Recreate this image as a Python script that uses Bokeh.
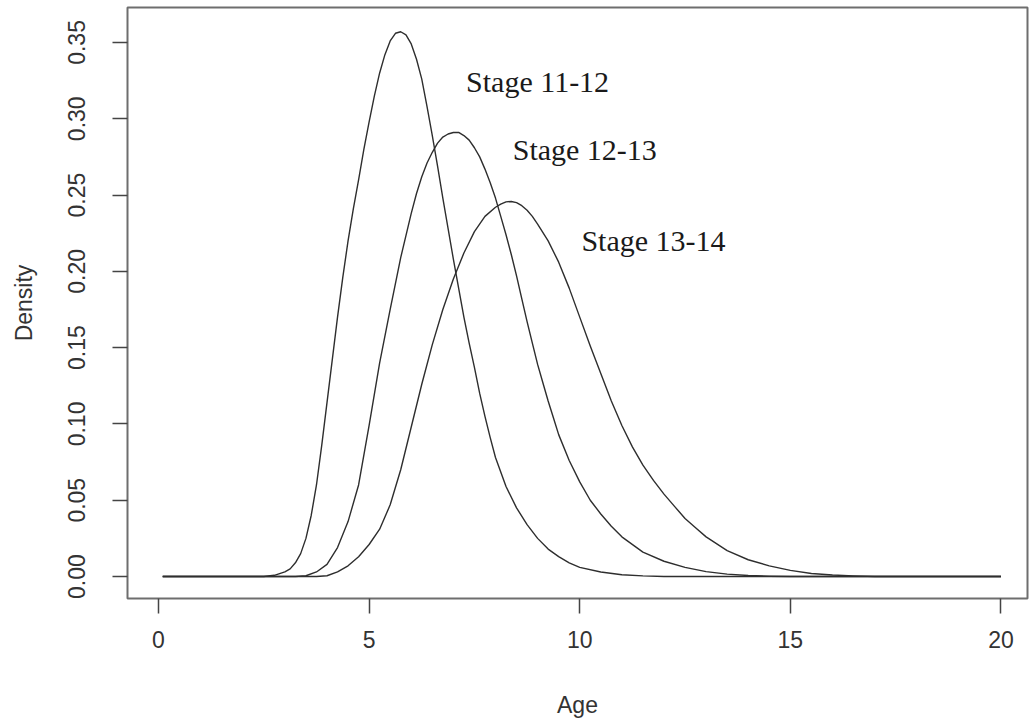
from bokeh.plotting import figure
from bokeh.models import Range1d, FixedTicker, ColumnDataSource
from bokeh.core.properties import value
from bokeh.embed import file_html
from bokeh.resources import INLINE

# ---- data ----
x_s1 = [0.1, 2.5, 2.75, 3.0, 3.125, 3.25, 3.375, 3.5, 3.625, 3.75, 3.875, 4.0, 4.125, 4.25, 4.375,
        4.5, 4.625, 4.75, 4.875, 5.0, 5.125, 5.25, 5.375, 5.5, 5.625, 5.75, 5.875, 6.0, 6.125,
        6.25, 6.375, 6.5, 6.625, 6.75, 6.875, 7.0, 7.125, 7.25, 7.375, 7.5, 7.625, 7.75, 7.875,
        8.0, 8.25, 8.5, 8.75, 9.0, 9.25, 9.5, 9.75, 10.0, 10.5, 11.0, 11.5, 12.0, 20.0]
y_s1 = [0.0, 0.0, 0.0008, 0.003, 0.005, 0.009, 0.015, 0.025, 0.04, 0.06, 0.086, 0.114, 0.142, 0.17, 0.196,
        0.22, 0.241, 0.26, 0.28, 0.298, 0.315, 0.33, 0.342, 0.351, 0.356, 0.357, 0.355, 0.349, 0.339,
        0.326, 0.308, 0.289, 0.269, 0.248, 0.228, 0.208, 0.189, 0.17, 0.153, 0.137, 0.12, 0.105, 0.091,
        0.078, 0.059, 0.045, 0.034, 0.025, 0.018, 0.013, 0.009, 0.006, 0.003, 0.0012, 0.0004, 0.0, 0.0]

x_s2 = [0.1, 3.25, 3.5, 3.75, 4.0, 4.25, 4.5, 4.75, 5.0, 5.25, 5.5, 5.75, 6.0, 6.125, 6.25, 6.375,
        6.5, 6.625, 6.75, 6.875, 7.0, 7.125, 7.25, 7.375, 7.5, 7.625, 7.75, 7.875, 8.0, 8.125,
        8.25, 8.375, 8.5, 8.625, 8.75, 8.875, 9.0, 9.125, 9.25, 9.375, 9.5, 9.75, 10.0, 10.25,
        10.5, 10.75, 11.0, 11.5, 12.0, 12.5, 13.0, 13.5, 14.0, 14.5, 15.0, 20.0]
y_s2 = [0.0, 0.0, 0.0005, 0.003, 0.008, 0.019, 0.036, 0.06, 0.099, 0.14, 0.175, 0.209, 0.238, 0.251, 0.262, 0.271,
        0.278, 0.284, 0.288, 0.290, 0.291, 0.291, 0.289, 0.286, 0.281, 0.275, 0.267, 0.258, 0.248, 0.236,
        0.224, 0.211, 0.197, 0.182, 0.167, 0.153, 0.139, 0.127, 0.115, 0.104, 0.093, 0.076, 0.062, 0.050,
        0.041, 0.033, 0.026, 0.016, 0.010, 0.006, 0.0032, 0.0016, 0.0007, 0.0002, 0.0, 0.0]

x_s3 = [0.1, 3.75, 4.0, 4.25, 4.5, 4.75, 5.0, 5.25, 5.5, 5.75, 6.0, 6.25, 6.5, 6.75, 7.0, 7.25,
        7.5, 7.75, 8.0, 8.125, 8.25, 8.375, 8.5, 8.625, 8.75, 8.875, 9.0, 9.25, 9.5, 9.75, 10.0,
        10.25, 10.5, 10.75, 11.0, 11.25, 11.5, 11.75, 12.0, 12.25, 12.5, 12.75, 13.0, 13.5, 14.0,
        14.5, 15.0, 15.5, 16.0, 16.5, 17.0, 20.0]
y_s3 = [0.0, 0.0, 0.0005, 0.003, 0.007, 0.013, 0.021, 0.031, 0.047, 0.07, 0.098, 0.126, 0.152, 0.175, 0.195, 0.212,
        0.226, 0.236, 0.242, 0.244, 0.2455, 0.2458, 0.245, 0.243, 0.240, 0.236, 0.231, 0.220, 0.206, 0.189, 0.170,
        0.151, 0.133, 0.115, 0.099, 0.085, 0.073, 0.063, 0.054, 0.046, 0.038, 0.032, 0.026, 0.017, 0.011,
        0.007, 0.004, 0.002, 0.001, 0.0004, 0.0, 0.0]

labels = ["Stage 11-12", "Stage 12-13", "Stage 13-14"]
label_x = [9.0, 10.12, 11.75]
label_y = [0.3244, 0.280, 0.220]

x_ticks = [0, 5, 10, 15, 20]
y_ticks = [0.0, 0.05, 0.10, 0.15, 0.20, 0.25, 0.30, 0.35]
y_tick_labels = ["0.00", "0.05", "0.10", "0.15", "0.20", "0.25", "0.30", "0.35"]

# ---- figure ----
p = figure(width=1029, height=728, output_backend="svg", toolbar_location=None,
           x_range=Range1d(-0.736, 20.63), y_range=Range1d(-0.0144, 0.3729),
           min_border_left=127, min_border_right=2, min_border_top=7, min_border_bottom=130)
p.background_fill_color = "white"
p.border_fill_color = "white"
p.grid.visible = False
p.outline_line_color = "#6e6e6e"
p.outline_line_width = 2

line_color = "#2e2e2e"
for xs, ys in [(x_s1, y_s1), (x_s2, y_s2), (x_s3, y_s3)]:
    p.line(xs, ys, line_color=line_color, line_width=1.4, line_join="round")

src = ColumnDataSource(dict(x=label_x, y=label_y, t=labels))
p.text(x="x", y="y", text="t", source=src, text_font=value("Liberation Serif"),
       text_font_size="30px", text_align="center", text_baseline="middle", text_color="#1a1a1a")

for ax in (p.xaxis[0], p.yaxis[0]):
    ax.axis_line_color = None
    ax.major_tick_out = 15
    ax.major_tick_in = 0
    ax.minor_tick_line_color = None
    ax.major_tick_line_color = "#444444"
    ax.major_tick_line_width = 1.5
    ax.major_label_text_font = "Liberation Sans"
    ax.major_label_text_font_size = "23px"
    ax.major_label_text_color = "#333333"
    ax.axis_label_text_font = "Liberation Sans"
    ax.axis_label_text_font_size = "23px"
    ax.axis_label_text_font_style = "normal"
    ax.axis_label_text_color = "#333333"

p.xaxis.ticker = FixedTicker(ticks=x_ticks)
p.yaxis.ticker = FixedTicker(ticks=y_ticks)
p.yaxis.major_label_overrides = {t: s for t, s in zip(y_ticks, y_tick_labels)}
p.yaxis.major_label_orientation = "vertical"
p.xaxis.axis_label = "Age"
p.yaxis.axis_label = "Density"
p.xaxis.major_label_standoff = 17
p.xaxis.axis_label_standoff = 41
p.yaxis.major_label_standoff = 27
p.yaxis.axis_label_standoff = 29

open("out.html", "w").write(file_html(p, INLINE))
